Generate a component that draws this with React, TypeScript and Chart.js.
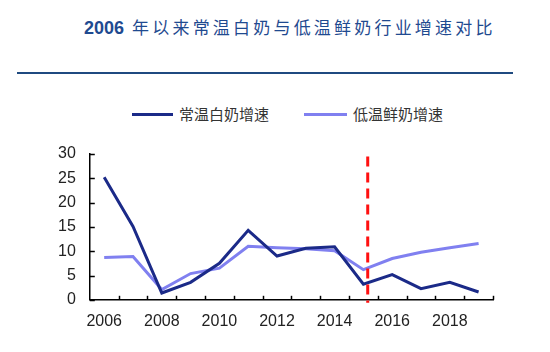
import React, { useEffect, useRef } from "react";
import { Chart, registerables } from "chart.js";

Chart.register(...registerables);

const TITLE_YEAR = "2006";
const TITLE_TEXT = "年以来常温白奶与低温鲜奶行业增速对比";
const YEARS = ["2006", "2007", "2008", "2009", "2010", "2011", "2012", "2013", "2014", "2015", "2016", "2017", "2018", "2019"];
const AMBIENT_LABEL = "常温白奶增速";
const AMBIENT = [25.2, 15.1, 1.4, 3.6, 7.5, 14.3, 9.0, 10.6, 10.9, 3.2, 5.2, 2.3, 3.6, 1.6];
const CHILLED_LABEL = "低温鲜奶增速";
const CHILLED = [8.7, 8.9, 2.1, 5.4, 6.5, 11.0, 10.7, 10.5, 10.1, 6.2, 8.5, 9.8, 10.7, 11.6];
const Y_TICKS = [0, 5, 10, 15, 20, 25, 30];
const MARKER_INDEX = 9.15; // category position of the red dashed marker (between 2015 and 2016)
const MARKER_TOP = 29.5;

const DARK = "#1B2A88";
const LIGHT = "#8080F0";

const innerTicks = {
  id: "innerTicks",
  afterDatasetsDraw(chart: any) {
    const { ctx, chartArea, scales } = chart;
    const x = scales.x;
    const y = scales.y;
    ctx.save();
    ctx.strokeStyle = "#000";
    ctx.lineWidth = 1.5;
    const n = YEARS.length;
    for (let i = 1; i <= n; i++) {
      const px = Math.round(x.left + (i * (x.right - x.left)) / n) + 0.5;
      ctx.beginPath();
      ctx.moveTo(px, chartArea.bottom);
      ctx.lineTo(px, chartArea.bottom - 4);
      ctx.stroke();
    }
    Y_TICKS.forEach((v) => {
      const py = Math.round(y.getPixelForValue(v)) + 0.5;
      ctx.beginPath();
      ctx.moveTo(chartArea.left, py);
      ctx.lineTo(chartArea.left + 5, py);
      ctx.stroke();
    });
    // red dashed marker
    const i0 = Math.floor(MARKER_INDEX);
    const f = MARKER_INDEX - i0;
    const mx = x.getPixelForValue(i0) + f * (x.getPixelForValue(i0 + 1) - x.getPixelForValue(i0));
    ctx.strokeStyle = "#FF1010";
    ctx.lineWidth = 3;
    ctx.setLineDash([10, 6]);
    ctx.beginPath();
    ctx.moveTo(mx, y.getPixelForValue(MARKER_TOP));
    ctx.lineTo(mx, chartArea.bottom + 3);
    ctx.stroke();
    ctx.restore();
  },
};

export default function App() {
  const ref = useRef<HTMLCanvasElement>(null);
  useEffect(() => {
    if (!ref.current) return;
    const chart = new Chart(ref.current, {
      type: "line",
      data: {
        labels: YEARS,
        datasets: [
          { label: AMBIENT_LABEL, data: AMBIENT, borderColor: DARK, backgroundColor: DARK, borderWidth: 3, pointRadius: 0, tension: 0 },
          { label: CHILLED_LABEL, data: CHILLED, borderColor: LIGHT, backgroundColor: LIGHT, borderWidth: 3, pointRadius: 0, tension: 0 },
        ],
      },
      options: {
        animation: false,
        responsive: false,
        layout: { padding: { left: 44, right: 57, top: 154, bottom: 9 } },
        plugins: { legend: { display: false }, tooltip: { enabled: false }, title: { display: false } },
        scales: {
          x: {
            offset: true,
            grid: { display: false, drawTicks: false, offset: true },
            border: { display: true, color: "#000", width: 1.5 },
            ticks: {
              autoSkip: false,
              maxRotation: 0,
              padding: 12,
              color: "#222",
              font: { family: "'Liberation Sans', Arial, sans-serif", size: 16 },
              callback: (_v: any, i: number) => (i % 2 === 0 ? YEARS[i] : ""),
            },
          },
          y: {
            min: 0,
            max: 30,
            grid: { display: false, drawTicks: false },
            border: { display: true, color: "#000", width: 1.5 },
            ticks: {
              stepSize: 5,
              autoSkip: false,
              padding: 14,
              color: "#222",
              font: { family: "'Liberation Sans', Arial, sans-serif", size: 16 },
            },
          },
        },
      },
      plugins: [innerTicks],
    });
    return () => chart.destroy();
  }, []);

  const legendText: React.CSSProperties = { fontFamily: "'Noto Sans CJK SC', sans-serif", fontSize: 15, color: "#333", lineHeight: "20px" };
  return (
    <div style={{ position: "absolute", left: 0, top: 0, width: 550, height: 352, background: "#fff" }}>
      <div style={{ position: "absolute", left: 84, top: 15, whiteSpace: "nowrap", color: "#1F4A90", lineHeight: "24px" }}>
        <span style={{ fontFamily: "'Liberation Sans', Arial, sans-serif", fontWeight: "bold", fontSize: 18 }}>{TITLE_YEAR}</span>
        <span style={{ fontFamily: "'Noto Sans CJK SC', sans-serif", fontWeight: "normal", fontSize: 17, letterSpacing: 3.2, marginLeft: 8 }}>{TITLE_TEXT}</span>
      </div>
      <div style={{ position: "absolute", left: 17, top: 72, width: 496, height: 2, background: "#1F4A80" }} />
      <div style={{ position: "absolute", left: 132, top: 104, height: 20, display: "flex", alignItems: "center", whiteSpace: "nowrap" }}>
        <span style={{ display: "inline-block", width: 41, height: 3, background: DARK }} />
        <span style={{ ...legendText, marginLeft: 6 }}>{AMBIENT_LABEL}</span>
        <span style={{ display: "inline-block", width: 43, height: 3, background: LIGHT, marginLeft: 35 }} />
        <span style={{ ...legendText, marginLeft: 6 }}>{CHILLED_LABEL}</span>
      </div>
      <canvas ref={ref} width={550} height={352} style={{ position: "absolute", left: 0, top: 0 }} />
    </div>
  );
}
